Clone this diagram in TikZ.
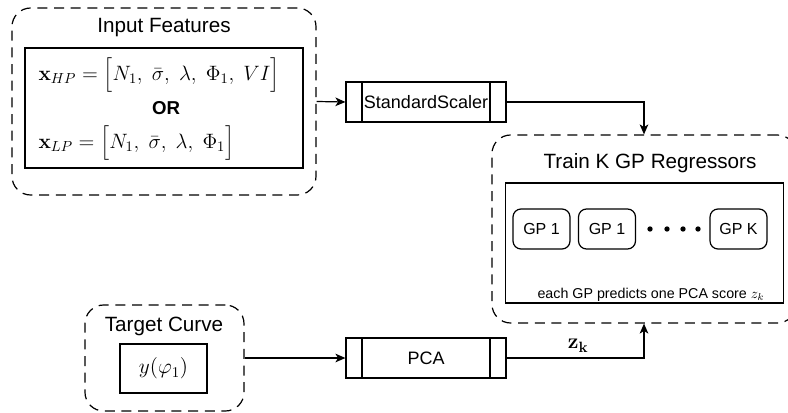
\documentclass[tikz,border=0pt]{standalone}
\usepackage{fix-cm}
\usepackage[no-math]{fontspec}
\setmainfont{Liberation Sans}
\usepackage{amsmath}
\usetikzlibrary{arrows.meta}

\begin{document}
\begin{tikzpicture}[x=0.75pt, y=-0.75pt,
        every node/.style={inner sep=0pt, line width=0.9pt},
        group/.style={draw, dashed, dash pattern=on 7.5pt off 5pt, rounded corners=14pt},
        inbox/.style={draw, minimum width=208.5pt, minimum height=90pt},
        title/.style={font=\fontsize{15.5}{18}\selectfont},
        eq/.style={anchor=west, font=\fontsize{15.6}{19}\selectfont},
        proc/.style={draw, minimum width=120pt, minimum height=30pt,
            font=\fontsize{13.5}{16}\selectfont,
            path picture={
                \draw ([xshift=12pt]path picture bounding box.north west) -- ([xshift=12pt]path picture bounding box.south west);
                \draw ([xshift=-12pt]path picture bounding box.north east) -- ([xshift=-12pt]path picture bounding box.south east);
            }},
        gp/.style={draw, rounded corners=6pt, minimum width=42.75pt, minimum height=30pt,
            font=\fontsize{12}{14}\selectfont},
        arr/.style={line width=0.9pt, -{Stealth[length=7.5pt, width=6.5pt, inset=2pt]}}]
    \useasboundingbox (0,0) rectangle (788,413);

    % input features
    \node[group, minimum width=228pt, minimum height=140.25pt] (inp) at (164,101.5) {};
    \node[title] (inptitle) at (164,28) {Input Features};
    \node[inbox] (feat) at (164,108) {};
    \node[eq] (xhp) at (38,75) {$\mathbf{x}_{HP} = \Big[N_1,\ \bar{\sigma},\ \lambda,\ \Phi_1,\ VI\Big]$};
    \node[font=\fontsize{14}{16}\selectfont\bfseries] (or) at (166,108) {OR};
    \node[eq] (xlp) at (38,143) {$\mathbf{x}_{LP} = \Big[N_1,\ \bar{\sigma},\ \lambda,\ \Phi_1\Big]$};

    % target curve
    \node[group, minimum width=119.25pt, minimum height=79.5pt] (tgt) at (164.5,358) {};
    \node[title] (tgttitle) at (164,326) {Target Curve};
    \node[draw, minimum width=65.25pt, minimum height=36.75pt, font=\fontsize{16}{19}\selectfont] (y) at (163.5,368.5) {$y(\varphi_1)$};

    % preprocessing
    \node[proc] (ss) at (426,102) {StandardScaler};
    \node[proc] (pca) at (426,358) {PCA};

    % GP regressors
    \node[group, minimum width=228pt, minimum height=141pt] (train) at (644,229) {};
    \node[title] (traintitle) at (650,163) {Train K GP Regressors};
    \node[inbox] (gpbox) at (644.5,243) {};
    \node[gp] (gpa) at (541.5,229) {GP 1};
    \node[gp] (gpb) at (607,229) {GP 1};
    \node[gp] (gpk) at (738.5,229) {GP K};
    \foreach \x in {650,667,683,698}
        \fill (\x,229) circle (2pt);
    \node[font=\fontsize{10.7}{13}\selectfont] (note) at (651,295) {each GP predicts one PCA score $z_k$};

    \draw[arr] (inp.east) -- (ss.west);
    \draw[arr] (ss.east) -| (train.north);
    \draw[arr] (tgt.east) -- (pca.west);
    \draw[arr] (pca.east) -| node[pos=0.26, above=4pt, font=\fontsize{16}{19}\selectfont] {$\mathbf{z_k}$} (train.south);
\end{tikzpicture}
\end{document}
